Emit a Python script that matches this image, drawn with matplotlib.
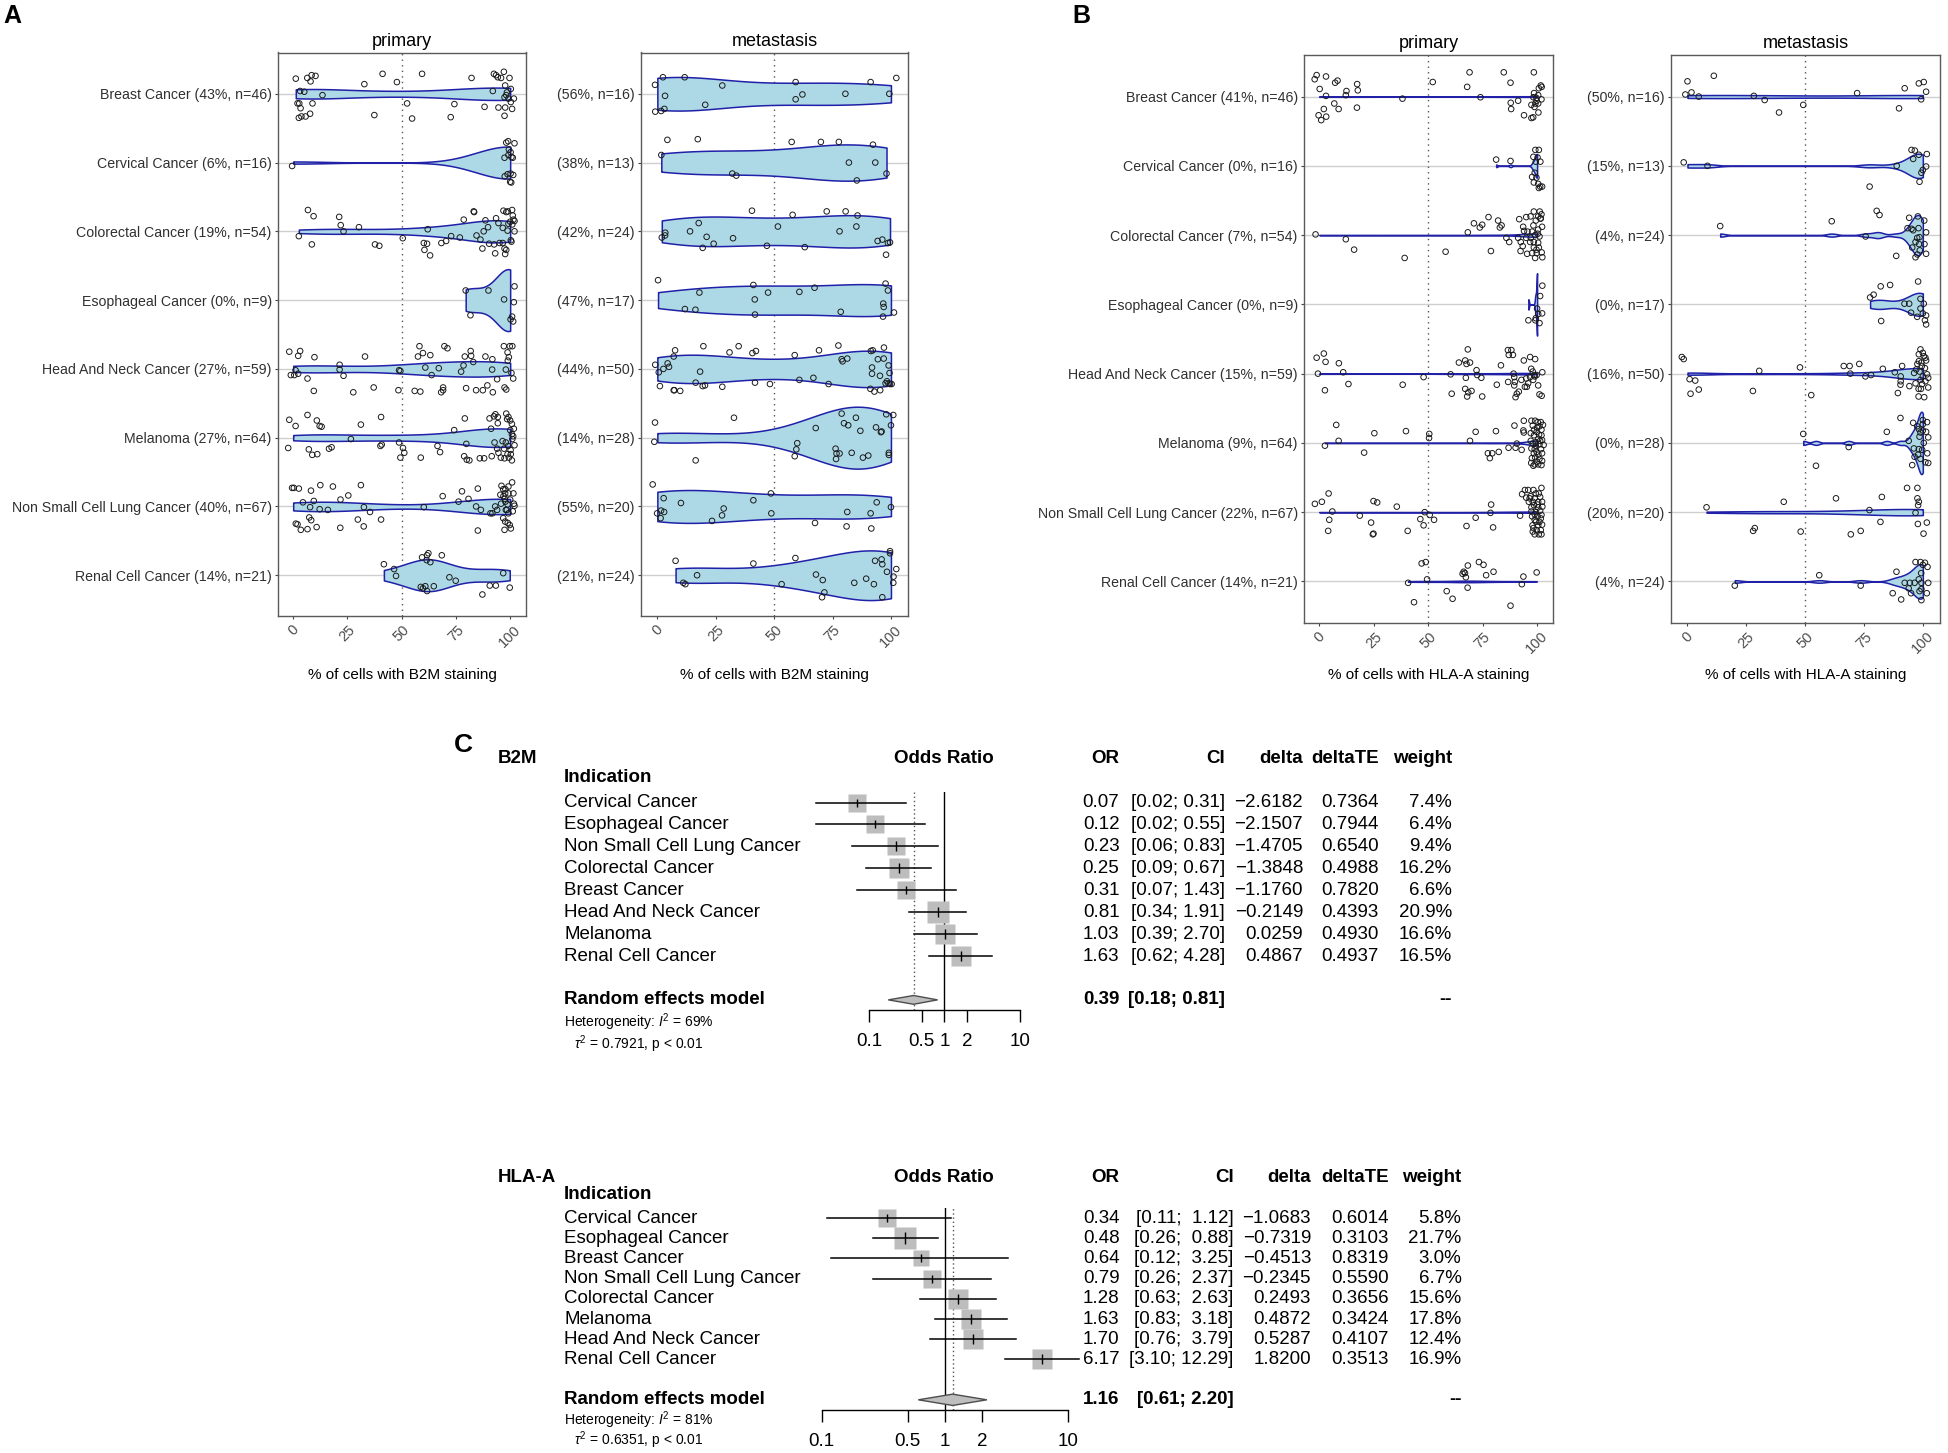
import numpy as np
import matplotlib
matplotlib.use('Agg')
import matplotlib.pyplot as plt
from matplotlib import font_manager as fm
from matplotlib.ticker import NullLocator
from matplotlib.transforms import blended_transform_factory

plt.rcParams['font.family'] = ['Liberation Sans', 'DejaVu Sans']
plt.rcParams['mathtext.fontset'] = 'custom'
plt.rcParams['mathtext.rm'] = 'Liberation Sans'
plt.rcParams['mathtext.it'] = 'Liberation Sans:italic'
plt.rcParams['mathtext.bf'] = 'Liberation Sans:bold'

# condensed font for the ggplot panels if we have it
try:
    fm.findfont('Liberation Sans Narrow', fallback_to_default=False)
    nfam, k = 'Liberation Sans Narrow', 1.0
except ValueError:
    nfam, k = 'Liberation Sans', 0.82

# ---------------- staining data (A, B) ----------------
cancers = ['Breast Cancer', 'Cervical Cancer', 'Colorectal Cancer', 'Esophageal Cancer',
           'Head And Neck Cancer', 'Melanoma', 'Non Small Cell Lung Cancer', 'Renal Cell Cancer']

b2m_prim_pct = [43, 6, 19, 0, 27, 27, 40, 14]
b2m_prim_n = [46, 16, 54, 9, 59, 64, 67, 21]
b2m_met_pct = [56, 38, 42, 47, 44, 14, 55, 21]
b2m_met_n = [16, 13, 24, 17, 50, 28, 20, 24]
hla_prim_pct = [41, 0, 7, 0, 15, 9, 22, 14]
hla_prim_n = [46, 16, 54, 9, 59, 64, 67, 21]
hla_met_pct = [50, 15, 4, 0, 16, 0, 20, 4]
hla_met_n = [16, 13, 24, 17, 50, 28, 20, 24]

# % of stained cells per sample (as plotted) and vertical jitter, per cancer type
b2m_prim_vals = [
    [1.2, 6.5, 8.5, 10.3, 8.0, 3.2, 5.1, 13.5, 2.0, 2.8, 8.9, 3.4, 2.6, 3.8, 5.7, 7.8, 32.8, 41.2, 47.8, 37.4,
     52.5, 54.8, 59.4, 74.3, 72.6, 82.2, 88.2, 92.0, 92.5, 93.5, 94.3, 97.1, 95.8, 99.7, 97.7, 100.3, 98.5, 97.4,
     101.7, 100.3, 94.6, 97.7, 100.9, 97.4, 98.2, 99.2],
    [-0.5, 98.2, 99.1, 102.0, 99.4, 97.4, 100.2, 100.6, 101.2, 97.5, 101.4, 100.2, 100.0, 100.5, 99.2, 98.8],
    [6.8, 9.4, 2.6, 8.6, 21.2, 21.9, 23.2, 30.3, 37.7, 39.7, 50.5, 62.0, 60.2, 61.7, 60.5, 63.1, 68.3, 70.5, 72.8,
     76.8, 78.6, 83.2, 83.4, 84.5, 87.2, 87.8, 88.6, 86.3, 92.6, 93.1, 93.5, 94.6, 95.1, 96.6, 96.9, 98.2, 98.9,
     100.9, 97.4, 97.7, 98.2, 99.2, 100.0, 101.5, 102.0, 101.0, 102.0, 100.3, 100.6, 96.6, 98.8, 89.8, 90.3, 101.2],
    [79.5, 81.7, 90.0, 97.2, 102.0, 101.7, 100.9, 101.4, 100.2],
    [-1.8, 2.3, 3.2, 9.8, 33.1, -1.1, 0.5, 2.3, 1.1, 6.6, 9.5, 21.4, 21.4, 23.2, 27.7, 37.1, 48.5, 48.8, 49.4, 56.0,
     58.6, 58.2, 57.5, 59.8, 60.9, 63.8, 63.2, 69.7, 71.1, 67.1, 69.1, 69.1, 68.2, 77.4, 78.5, 79.1, 81.8, 82.0,
     83.0, 79.7, 84.3, 87.4, 88.6, 89.5, 91.8, 91.7, 92.0, 94.0, 97.1, 98.0, 98.8, 99.8, 101.0, 99.4, 100.6, 101.4,
     97.4, 98.2, 98.9],
    [-1.8, 1.1, 6.6, 10.9, 12.2, 13.1, 31.2, 40.5, -2.3, 7.2, 8.8, 11.1, 16.5, 17.7, 26.6, 40.2, 40.8, 48.8, 50.6,
     51.2, 49.4, 58.8, 66.5, 67.7, 74.2, 79.1, 79.8, 78.8, 80.0, 81.2, 86.0, 88.0, 90.5, 91.2, 92.5, 93.2, 94.3,
     91.5, 92.8, 94.0, 94.6, 95.7, 98.2, 99.2, 100.0, 100.8, 101.7, 100.8, 101.4, 101.0, 102.0, 96.5, 97.2, 98.8,
     99.4, 100.2, 100.3, 98.0, 99.1, 100.0, 97.4, 94.3, 100.8, 98.6],
    [-0.5, 0.3, 2.6, 8.2, 12.5, 18.3, 25.4, 31.2, 4.5, 9.5, 7.8, 12.2, 16.0, 21.8, 32.6, 35.4, 1.2, 2.0, 3.5, 6.6,
     7.4, 8.3, 10.8, 21.7, 29.8, 32.5, 40.5, 60.2, 68.9, 76.2, 77.8, 80.8, 85.1, 84.3, 86.5, 85.1, 90.9, 91.8, 93.1,
     94.0, 96.0, 96.8, 97.8, 99.2, 100.9, 97.7, 99.2, 101.5, 97.5, 97.8, 98.8, 101.7, 102.0, 101.2, 96.8, 97.7,
     98.9, 99.8, 97.4, 100.3, 99.2, 98.5, 95.8, 95.5, 100.0, 96.9, 98.0],
    [41.8, 46.5, 47.4, 59.4, 61.7, 62.3, 63.2, 68.5, 58.8, 59.8, 60.9, 61.7, 64.8, 72.0, 74.9, 90.6, 93.4, 96.8,
     99.8, 87.2, 61.5],
]
b2m_prim_jit = [
    [-0.22, -0.23, -0.27, -0.26, -0.18, -0.04, -0.03, 0.02, 0.14, 0.14, 0.14, 0.21, 0.35, 0.33, 0.33, 0.29, -0.14,
     -0.29, -0.17, 0.31, 0.14, 0.36, -0.29, 0.15, 0.34, -0.23, 0.19, -0.04, -0.29, -0.27, -0.24, -0.32, -0.23,
     -0.23, -0.12, -0.07, -0.02, 0.05, 0.07, 0.12, 0.20, 0.20, 0.22, 0.32, 0.02, 0.07],
    [0.05, -0.29, -0.31, -0.28, -0.19, -0.07, -0.15, -0.08, -0.07, 0.20, 0.18, 0.16, 0.28, 0.29, -0.11, 0.17],
    [-0.31, -0.22, 0.07, 0.19, -0.21, -0.09, 0.00, -0.06, 0.19, 0.21, 0.10, -0.03, 0.17, 0.18, 0.27, 0.35, 0.17,
     0.14, 0.07, 0.09, -0.17, -0.29, -0.28, 0.06, 0.25, 0.00, -0.16, 0.12, 0.19, 0.32, -0.19, -0.12, 0.17, 0.17,
     -0.30, -0.28, -0.29, -0.31, 0.25, 0.33, 0.27, -0.11, -0.14, -0.17, -0.15, -0.10, 0.00, 0.13, 0.15, -0.05,
     -0.01, -0.06, 0.18, -0.23],
    [-0.14, 0.22, -0.14, -0.01, -0.20, 0.03, 0.24, 0.31, 0.28],
    [-0.25, -0.19, -0.26, -0.17, -0.18, 0.09, 0.09, 0.07, 0.02, 0.14, 0.32, -0.06, 0.01, 0.10, 0.34, 0.27, 0.31,
     0.02, 0.03, 0.32, 0.33, -0.33, -0.18, -0.23, -0.02, 0.09, -0.20, -0.33, -0.30, -0.01, 0.27, 0.31, 0.34, 0.04,
     -0.05, -0.18, -0.26, -0.19, -0.10, 0.28, 0.31, 0.31, -0.18, 0.24, -0.14, 0.01, 0.34, 0.15, -0.33, 0.01,
     -0.24, -0.33, -0.33, -0.17, 0.06, 0.14, 0.27, 0.30, -0.12],
    [-0.26, -0.17, -0.33, -0.25, -0.17, -0.16, -0.19, -0.30, 0.15, 0.17, 0.25, 0.24, 0.16, 0.14, 0.02, 0.12, 0.10,
     0.07, 0.15, 0.22, 0.29, 0.29, 0.12, 0.21, -0.11, -0.28, 0.09, 0.27, 0.32, 0.33, 0.30, 0.30, -0.28, -0.13,
     -0.31, -0.34, -0.30, 0.27, 0.07, 0.16, 0.22, 0.29, -0.35, -0.30, -0.25, -0.20, -0.13, -0.05, -0.02, 0.02,
     0.11, 0.05, 0.16, 0.24, 0.29, 0.18, 0.24, 0.07, 0.12, -0.11, 0.30, -0.21, 0.33, -0.27],
    [-0.27, -0.27, -0.26, -0.23, -0.31, -0.29, -0.16, -0.31, -0.06, -0.08, 0.01, 0.04, 0.05, -0.10, 0.01, 0.08,
     0.25, 0.26, 0.34, 0.33, 0.16, 0.20, 0.30, 0.31, 0.19, 0.29, 0.19, 0.01, -0.15, -0.07, -0.22, -0.11, -0.26,
     0.00, 0.05, 0.35, 0.10, 0.10, 0.00, 0.05, -0.30, -0.25, -0.25, -0.29, -0.35, -0.19, -0.19, -0.19, -0.11,
     -0.07, -0.03, -0.04, -0.01, 0.07, 0.17, 0.22, 0.24, 0.27, 0.34, 0.32, 0.10, 0.05, -0.04, -0.17, -0.10,
     -0.15, 0.05],
    [-0.16, -0.09, 0.01, -0.26, -0.29, -0.32, -0.19, -0.29, 0.17, 0.19, 0.16, 0.23, 0.16, 0.03, 0.08, 0.15, 0.15,
     -0.03, 0.18, 0.28, -0.22],
]

b2m_met_vals = [
    [-1.0, 2.4, 11.7, 27.8, 3.3, -0.9, 1.6, 3.0, 20.5, 59.2, 62.1, 59.2, 80.5, 91.3, 99.3, 102.3],
    [4.3, 17.3, 1.7, 32.1, 33.8, 57.5, 70.0, 77.7, 92.3, 82.0, 93.3, 98.1, 85.4],
    [40.5, 57.9, 72.5, 80.6, 85.7, 17.7, 3.4, 1.9, 14.0, 21.1, 19.4, 24.1, 32.4, 46.9, 51.6, 63.1, 78.0, 85.2,
     94.3, 96.3, 98.7, 97.9, 99.6, 3.3],
    [0.3, 18.0, 11.8, 16.3, 41.1, 41.7, 41.8, 47.4, 60.8, 67.3, 78.5, 97.7, 98.7, 96.7, 96.9, 96.6, 101.3],
    [-0.9, 0.6, 2.6, 4.4, 5.0, 7.0, 7.6, 1.1, 7.0, 7.3, 9.8, 18.3, 19.7, 16.4, 19.4, 20.4, 27.8, 30.9, 34.8, 40.7,
     42.2, 41.8, 48.2, 58.8, 60.8, 66.8, 69.2, 73.3, 77.5, 78.9, 79.3, 81.3, 91.4, 92.2, 94.4, 97.0, 96.9, 91.9,
     91.9, 95.3, 99.4, 98.3, 98.9, 99.6, 100.3, 91.2, 92.9, 95.4, 97.7, 99.0],
    [-1.0, -1.3, 16.4, 32.8, 59.9, 59.5, 58.8, 67.8, 78.9, 79.9, 81.7, 85.0, 86.9, 76.3, 76.7, 76.5, 78.0, 83.2,
     88.0, 90.3, 93.6, 96.0, 98.0, 101.0, 100.0, 99.1, 99.1, 95.7],
    [-2.0, 2.7, -0.1, 1.6, 2.9, 1.4, 10.1, 28.4, 27.7, 23.4, 41.1, 48.6, 48.8, 67.5, 81.3, 81.0, 93.9, 91.3, 91.6,
     100.0],
    [7.8, 11.1, 12.0, 17.0, 41.1, 53.2, 59.1, 67.9, 70.8, 71.5, 70.5, 84.3, 89.4, 92.7, 93.2, 96.0, 96.3, 96.3,
     98.3, 99.6, 99.6, 102.3, 101.1, 101.0],
]
b2m_met_jit = [
    [-0.13, -0.24, -0.24, -0.12, 0.03, 0.26, 0.25, 0.22, 0.16, -0.17, 0.01, 0.08, 0.00, -0.17, 0.00, -0.23],
    [-0.33, -0.34, -0.11, 0.16, 0.19, -0.30, -0.30, -0.30, -0.26, 0.00, 0.00, 0.16, 0.26],
    [-0.30, -0.24, -0.29, -0.29, -0.23, -0.12, 0.02, 0.09, 0.00, 0.08, 0.24, 0.18, 0.10, 0.21, -0.07, 0.23, 0.00,
     -0.07, 0.14, 0.12, 0.17, 0.34, 0.16, 0.06],
    [-0.29, -0.11, 0.13, 0.14, -0.22, -0.01, 0.21, -0.11, -0.12, -0.18, 0.17, -0.24, -0.14, 0.05, 0.10, 0.24, 0.18],
    [-0.06, 0.05, 0.00, -0.08, -0.03, -0.18, -0.27, 0.25, 0.31, 0.31, 0.32, 0.04, -0.33, 0.20, 0.25, 0.24, 0.26,
     -0.24, -0.33, -0.23, -0.26, 0.20, 0.22, -0.20, 0.16, 0.13, -0.27, 0.22, -0.34, -0.14, -0.11, -0.15, -0.26,
     -0.27, -0.14, -0.31, -0.15, -0.02, 0.07, 0.10, 0.06, 0.18, 0.21, 0.22, 0.22, 0.29, 0.33, 0.31, 0.21, -0.05],
    [-0.22, 0.06, 0.33, -0.29, 0.08, 0.17, 0.27, -0.14, -0.35, -0.21, -0.18, -0.29, -0.10, 0.16, 0.23, 0.31, 0.23,
     0.22, 0.29, 0.26, -0.15, -0.09, -0.34, -0.33, -0.18, 0.22, 0.25, -0.08],
    [-0.32, -0.12, 0.10, 0.06, 0.08, 0.17, -0.05, 0.03, 0.13, 0.21, -0.09, -0.19, 0.10, 0.24, 0.08, 0.29, -0.06,
     0.10, 0.32, 0.01],
    [-0.21, 0.11, 0.13, 0.00, -0.17, 0.13, -0.25, -0.01, 0.07, 0.25, 0.32, 0.11, 0.05, 0.13, -0.21, -0.23, -0.16,
     0.32, -0.05, -0.35, -0.32, -0.09, 0.02, 0.11],
]

hla_prim_vals = [
    [-1.2, -2.1, 3.1, 7.3, 8.4, 0.2, 3.1, 12.5, 12.2, 17.4, 17.7, 6.9, 8.9, 2.1, -0.3, 0.9, 3.2, 17.3, 38.2, 52.1,
     69.0, 67.9, 74.0, 84.7, 87.8, 87.9, 88.1, 91.3, 94.0, 98.5, 100.8, 102.1, 98.6, 98.3, 97.4, 99.2, 100.5,
     102.0, 100.6, 98.2, 97.4, 99.8, 98.8, 101.7, 99.7, 100.5],
    [81.2, 87.8, 99.2, 100.8, 98.3, 100.2, 101.5, 99.4, 97.7, 99.7, 98.5, 100.5, 101.4, 102.3, 100.8, 98.9],
    [-1.7, 12.2, 16.0, 39.2, 58.0, 68.2, 71.0, 73.7, 74.8, 77.7, 78.8, 82.1, 82.9, 83.7, 85.9, 87.2, 91.8, 95.0,
     97.0, 98.5, 101.2, 102.0, 101.5, 99.4, 98.3, 93.6, 94.0, 95.0, 91.3, 92.5, 93.4, 92.4, 95.4, 97.7, 99.8,
     102.1, 99.1, 102.4, 98.5, 100.8, 98.5, 97.1, 100.3, 102.3, 100.5, 99.1, 101.1, 100.5, 99.7, 96.8, 101.7,
     100.5, 95.6, 97.7],
    [102.4, 101.4, 102.3, 100.5, 99.2, 96.0, 101.1, 99.4, 100.0],
    [-1.2, 2.1, 2.9, 9.0, -0.6, 11.0, 2.6, 13.4, 38.3, 47.9, 60.3, 60.8, 64.1, 67.0, 68.2, 67.6, 69.2, 67.3, 67.0,
     68.4, 67.9, 69.9, 72.2, 72.5, 74.4, 74.8, 81.5, 83.4, 86.6, 88.2, 87.0, 88.9, 89.2, 89.5, 89.8, 86.7, 89.5,
     90.7, 90.1, 91.6, 94.4, 95.3, 95.0, 93.9, 96.8, 99.1, 97.3, 98.0, 98.6, 99.8, 102.4, 98.2, 100.5, 101.1,
     102.1, 98.9, 96.8, 95.9, 92.8],
    [7.8, 8.9, 2.6, 25.3, 20.6, 39.8, 50.5, 50.4, 69.2, 71.8, 81.1, 77.4, 79.4, 78.3, 82.4, 89.6, 93.9, 93.7, 93.9,
     90.7, 86.9, 90.1, 92.9, 97.4, 99.1, 100.3, 101.7, 98.0, 101.1, 102.0, 99.8, 98.6, 102.0, 100.6, 102.3, 97.1,
     99.4, 101.1, 103.0, 97.4, 98.9, 101.8, 99.8, 98.5, 100.6, 102.3, 97.6, 99.1, 101.1, 97.3, 98.9, 100.5, 102.0,
     102.3, 100.0, 98.6, 102.7, 97.1, 99.4, 100.9, 98.0, 101.4, 99.8, 98.3],
    [-2.0, 1.2, 4.3, 6.0, 4.6, 4.1, 18.6, 23.8, 24.9, 24.6, 24.9, 26.6, 35.6, 40.6, 46.4, 47.9, 48.4, 50.7, 52.7,
     67.6, 71.8, 78.6, 78.9, 79.8, 92.2, 94.4, 95.9, 98.3, 102.0, 93.1, 95.0, 97.0, 98.9, 101.4, 96.2, 98.0, 100.5,
     102.3, 98.6, 100.5, 102.4, 97.4, 99.5, 101.4, 97.7, 98.9, 101.7, 97.9, 100.5, 102.3, 98.3, 99.8, 101.7, 98.9,
     100.8, 98.9, 100.2, 96.6, 99.4, 100.8, 97.4, 100.2, 102.0, 98.0, 102.0, 99.5, 101.1],
    [40.8, 43.5, 47.0, 48.9, 49.5, 58.5, 61.2, 65.8, 66.9, 67.3, 68.2, 68.1, 73.3, 75.4, 76.6, 80.0, 87.8, 93.0,
     93.7, 99.8, 66.3],
]
hla_prim_jit = [
    [-0.31, -0.25, -0.29, -0.20, -0.23, -0.11, -0.01, -0.08, -0.02, -0.18, -0.09, 0.10, 0.18, 0.18, 0.27, 0.34,
     0.29, 0.16, 0.03, -0.21, -0.35, -0.14, 0.01, -0.35, -0.20, 0.09, 0.18, 0.06, 0.27, -0.35, -0.12, -0.14,
     -0.05, 0.01, 0.12, 0.10, 0.10, 0.04, 0.23, 0.30, 0.31, 0.06, 0.15, -0.16, 0.02, -0.02],
    [-0.09, -0.07, -0.23, -0.23, -0.13, -0.12, -0.06, -0.06, 0.16, 0.17, 0.24, 0.26, 0.30, 0.30, 0.32, 0.10],
    [-0.01, 0.06, 0.21, 0.33, 0.24, -0.04, -0.17, -0.11, -0.15, -0.26, 0.23, -0.21, -0.11, -0.14, 0.04, 0.10,
     -0.23, -0.26, -0.27, -0.34, -0.34, -0.30, -0.24, -0.21, -0.14, -0.12, -0.06, 0.04, 0.04, 0.10, 0.16, 0.23,
     0.27, 0.26, 0.26, 0.25, 0.33, 0.32, 0.18, 0.18, 0.10, 0.04, -0.02, -0.12, -0.08, 0.00, 0.02, 0.11, 0.21,
     0.10, -0.24, -0.27, -0.05, -0.05],
    [-0.27, -0.12, 0.13, 0.14, 0.23, 0.23, 0.27, 0.20, 0.06],
    [-0.23, -0.29, -0.17, -0.15, 0.00, -0.02, 0.24, 0.15, 0.16, 0.05, 0.01, 0.29, -0.16, -0.19, -0.35, -0.14,
     -0.16, 0.06, 0.22, 0.27, 0.33, 0.25, -0.05, 0.02, 0.06, 0.33, 0.16, -0.12, -0.34, -0.34, -0.27, -0.27, 0.00,
     0.05, 0.12, 0.12, 0.17, 0.29, 0.34, 0.26, 0.19, 0.19, 0.07, -0.19, -0.24, -0.21, -0.07, -0.03, 0.02, 0.02,
     -0.02, 0.09, 0.17, 0.30, 0.32, 0.04, 0.05, 0.14, 0.09],
    [-0.26, -0.03, 0.04, -0.14, 0.14, -0.17, -0.13, -0.07, -0.03, -0.16, -0.17, 0.15, 0.15, 0.22, 0.13, -0.25,
     -0.32, -0.18, -0.15, 0.01, 0.07, 0.07, 0.10, -0.32, -0.32, -0.30, -0.30, -0.25, -0.24, -0.19, -0.16, -0.11,
     -0.11, -0.06, -0.04, -0.03, -0.01, 0.02, 0.03, 0.08, 0.09, 0.09, 0.13, 0.15, 0.17, 0.15, 0.22, 0.21, 0.23,
     0.29, 0.31, 0.31, 0.32, 0.26, -0.22, -0.19, -0.26, -0.14, 0.04, -0.12, 0.01, -0.03, 0.27, 0.33],
    [-0.12, -0.15, -0.27, -0.01, 0.11, 0.27, 0.05, 0.15, 0.31, 0.32, -0.16, -0.14, -0.08, 0.27, 0.10, 0.19, 0.00,
     0.04, 0.11, 0.20, 0.08, 0.01, -0.11, 0.22, 0.05, -0.32, -0.32, -0.32, -0.35, -0.26, -0.21, -0.23, -0.20,
     -0.22, -0.15, -0.15, -0.15, -0.15, -0.10, -0.07, -0.08, -0.01, 0.00, -0.02, 0.06, 0.11, 0.09, 0.19, 0.19,
     0.18, 0.23, 0.26, 0.26, 0.32, 0.32, 0.03, 0.06, -0.20, -0.27, -0.27, -0.07, -0.11, 0.04, 0.28, 0.32, 0.14,
     0.14],
    [0.02, 0.30, -0.26, -0.28, -0.03, 0.14, 0.25, -0.11, -0.12, -0.06, -0.23, 0.09, -0.28, -0.24, -0.09, -0.14,
     0.35, 0.04, -0.07, -0.13, -0.14],
]

hla_met_vals = [
    [0.0, 11.2, -0.9, 1.7, 4.8, 28.2, 32.8, 38.9, 49.2, 72.1, 89.9, 92.3, 98.3, 100.4, 101.4, 99.3],
    [-1.6, 8.5, 77.4, 88.9, 95.2, 96.6, 98.3, 101.7, 95.9, 100.0, 101.4, 99.4, 98.6],
    [13.9, 61.3, 80.4, 81.6, 75.7, 88.7, 94.2, 97.9, 100.6, 93.5, 95.2, 95.9, 98.2, 101.4, 97.6, 98.6, 96.9, 98.4,
     100.7, 95.5, 98.7, 96.9, 97.7, 101.4],
    [77.6, 79.1, 82.1, 86.1, 82.3, 98.0, 92.2, 94.2, 99.0, 100.4, 99.0, 95.0, 97.6, 100.0, 101.4, 100.9, 101.4],
    [-2.4, -1.6, 0.9, 3.3, 1.3, 4.8, 30.5, 27.8, 47.8, 52.6, 66.4, 68.9, 73.0, 69.2, 75.6, 78.0, 83.0, 88.1, 91.2,
     90.6, 90.6, 90.5, 94.3, 89.4, 97.7, 97.2, 98.6, 99.6, 100.4, 100.0, 99.0, 101.1, 98.3, 101.8, 102.3, 101.1,
     99.7, 102.3, 98.2, 99.2, 98.2, 100.6, 100.0, 99.4, 100.9, 96.9, 99.0, 101.4, 98.3, 96.3],
    [49.2, 54.6, 68.5, 84.7, 90.5, 94.0, 95.9, 98.3, 100.0, 101.8, 97.6, 100.0, 101.4, 102.3, 98.6, 96.2, 98.3,
     99.7, 101.9, 96.5, 99.0, 101.1, 102.3, 95.5, 100.0, 100.4, 98.0, 99.0],
    [8.1, 40.9, 63.1, 82.6, 77.3, 93.3, 97.7, 97.7, 98.3, 98.0, 96.9, 27.9, 28.6, 48.1, 69.4, 73.6, 82.0, 97.9,
     101.7, 100.3],
    [20.1, 56.0, 73.6, 88.8, 87.2, 90.8, 92.3, 94.0, 94.5, 96.5, 96.9, 99.0, 100.9, 102.0, 100.0, 99.3, 102.3,
     99.4, 99.4, 98.6, 101.7, 99.4, 95.0, 98.3],
]
hla_met_jit = [
    [-0.22, -0.30, -0.03, -0.06, 0.00, -0.01, 0.05, 0.23, 0.12, -0.05, 0.17, -0.12, -0.19, -0.21, -0.07, 0.04],
    [-0.05, 0.00, 0.30, 0.00, -0.23, -0.22, -0.16, -0.17, -0.10, 0.06, 0.01, 0.10, 0.23],
    [-0.13, -0.20, -0.35, -0.29, 0.02, 0.30, -0.25, -0.27, -0.21, -0.10, -0.09, -0.07, -0.10, -0.04, 0.04, 0.03,
     0.10, 0.13, 0.13, 0.18, 0.22, 0.32, 0.28, 0.27],
    [-0.10, -0.14, -0.26, -0.28, 0.24, -0.33, -0.01, -0.01, -0.08, -0.01, 0.06, 0.12, 0.18, 0.13, 0.16, 0.23, 0.29],
    [-0.24, -0.21, 0.08, 0.10, 0.29, 0.23, -0.04, 0.25, -0.09, 0.31, -0.11, -0.11, -0.14, 0.00, 0.04, 0.02, -0.07,
     -0.02, -0.11, 0.04, 0.11, 0.16, 0.18, 0.28, -0.14, -0.06, -0.03, -0.11, -0.25, -0.30, -0.35, -0.23, -0.18,
     0.01, 0.06, 0.11, 0.15, 0.20, 0.22, 0.22, 0.33, 0.34, 0.04, -0.16, -0.08, 0.14, 0.09, -0.19, -0.28, -0.01],
    [-0.13, 0.33, 0.06, -0.16, -0.36, -0.03, -0.29, -0.20, -0.33, -0.30, -0.24, -0.18, -0.16, -0.08, -0.09, 0.08,
     0.09, 0.10, 0.15, 0.20, 0.23, 0.28, 0.29, 0.32, -0.27, 0.00, 0.17, -0.15],
    [-0.07, -0.15, -0.20, -0.22, -0.03, -0.35, -0.35, -0.20, -0.15, -0.10, 0.01, 0.27, 0.23, 0.28, 0.32, 0.27,
     0.14, 0.17, 0.15, 0.31],
    [0.06, -0.09, 0.06, -0.14, 0.17, 0.26, 0.02, 0.10, 0.02, 0.02, -0.28, -0.28, -0.27, -0.21, -0.24, -0.12, 0.02,
     0.02, 0.11, 0.14, 0.17, 0.27, 0.17, -0.03],
]

# ---------------- forest plot data (C) ----------------
b2m_ind = ['Cervical Cancer', 'Esophageal Cancer', 'Non Small Cell Lung Cancer', 'Colorectal Cancer',
           'Breast Cancer', 'Head And Neck Cancer', 'Melanoma', 'Renal Cell Cancer']
b2m_or = [0.07, 0.12, 0.23, 0.25, 0.31, 0.81, 1.03, 1.63]
b2m_lo = [0.02, 0.02, 0.06, 0.09, 0.07, 0.34, 0.39, 0.62]
b2m_hi = [0.31, 0.55, 0.83, 0.67, 1.43, 1.91, 2.70, 4.28]
b2m_delta = [-2.6182, -2.1507, -1.4705, -1.3848, -1.1760, -0.2149, 0.0259, 0.4867]
b2m_dte = [0.7364, 0.7944, 0.6540, 0.4988, 0.7820, 0.4393, 0.4930, 0.4937]
b2m_wt = [7.4, 6.4, 9.4, 16.2, 6.6, 20.9, 16.6, 16.5]
b2m_pooled = [0.39, 0.18, 0.81]
b2m_i2, b2m_tau2 = 69, 0.7921

hla_ind = ['Cervical Cancer', 'Esophageal Cancer', 'Breast Cancer', 'Non Small Cell Lung Cancer',
           'Colorectal Cancer', 'Melanoma', 'Head And Neck Cancer', 'Renal Cell Cancer']
hla_or = [0.34, 0.48, 0.64, 0.79, 1.28, 1.63, 1.70, 6.17]
hla_lo = [0.11, 0.26, 0.12, 0.26, 0.63, 0.83, 0.76, 3.10]
hla_hi = [1.12, 0.88, 3.25, 2.37, 2.63, 3.18, 3.79, 12.29]
hla_delta = [-1.0683, -0.7319, -0.4513, -0.2345, 0.2493, 0.4872, 0.5287, 1.8200]
hla_dte = [0.6014, 0.3103, 0.8319, 0.5590, 0.3656, 0.3424, 0.4107, 0.3513]
hla_wt = [5.8, 21.7, 3.0, 6.7, 15.6, 17.8, 12.4, 16.9]
hla_pooled = [1.16, 0.61, 2.20]
hla_i2, hla_tau2 = 81, 0.6351

W, H = 1949, 1453
fig = plt.figure(figsize=(W / 100, H / 100), dpi=100)


def box(l, t, r, b):
    return [l / W, 1 - b / H, (r - l) / W, (b - t) / H]


def kde(v, method):
    d = np.clip(np.asarray(v, float), 0, 100)
    n = len(d)
    sd = d.std(ddof=1)
    if method == 'scott':
        bw = 1.06 * sd * n ** -0.2
    else:
        iqr = np.subtract(*np.percentile(d, [75, 25]))
        lo = min(sd, iqr / 1.34) if iqr > 0 else sd
        bw = 0.9 * lo * n ** -0.2
    g = np.linspace(d.min(), d.max(), 512)
    dens = np.exp(-0.5 * ((g[:, None] - d[None, :]) / bw) ** 2).sum(1) / (n * bw * np.sqrt(2 * np.pi))
    return g, dens


def stain_panel(ax, vals, jit, method, labels, title, xlabel, xlab_y):
    ax.set_xlim(-7, 107.3)
    ax.set_ylim(7.6, -0.6)
    for i in range(8):
        ax.axhline(i, color='#cfcfcf', lw=1.0, zorder=0)
    ax.axvline(50, color='#555555', lw=1.0, ls=(0, (1, 3)), zorder=1)
    dens = [kde(v, method) for v in vals]
    top = max(d.max() for g, d in dens)
    for i, (g, d) in enumerate(dens):
        half = 0.45 * d / top
        ax.fill_between(g, i - half, i + half, facecolor='#add8e6', edgecolor='#2020a8', lw=1.1, zorder=2)
    for i, (v, j) in enumerate(zip(vals, jit)):
        m = min(len(v), len(j))
        ax.scatter(v[:m], i + np.array(j[:m]), s=16, facecolors='none', edgecolors='#1a1a1a',
                   linewidths=0.7, zorder=3)
    ax.set_yticks(range(8))
    ax.set_yticklabels(labels, family=nfam, fontsize=12.4 * k, color='#303030')
    ax.set_xticks([0, 25, 50, 75, 100])
    ax.set_xticklabels(['0', '25', '50', '75', '100'], rotation=45, ha='center', va='top',
                       family=nfam, fontsize=12.8 * k, color='#4d4d4d')
    ax.xaxis.set_minor_locator(NullLocator())
    ax.tick_params(axis='both', length=2.5, width=0.8, color='#444444', pad=2)
    for s in ax.spines.values():
        s.set_color('#5a5a5a')
        s.set_linewidth(1.0)
    ax.set_title(title, family=nfam, fontsize=15.8 * k, pad=5)
    ax.set_xlabel(xlabel, family=nfam, fontsize=13.4 * k)
    ax.xaxis.label.set_va('center')
    ax.xaxis.set_label_coords(0.5, xlab_y)


lab = lambda names, pct, n: [f'{c} ({p}%, n={m})' for c, p, m in zip(names, pct, n)]
lab_s = lambda pct, n: [f'({p}%, n={m})' for p, m in zip(pct, n)]

axA1 = fig.add_axes(box(278, 52.5, 526, 616.5))
axA2 = fig.add_axes(box(641, 52.5, 908, 616.5))
axB1 = fig.add_axes(box(1304, 55, 1553, 623))
axB2 = fig.add_axes(box(1671, 55, 1940, 623))

stain_panel(axA1, b2m_prim_vals, b2m_prim_jit, 'scott', lab(cancers, b2m_prim_pct, b2m_prim_n),
            'primary', '% of cells with B2M staining', -0.104)
stain_panel(axA2, b2m_met_vals, b2m_met_jit, 'scott', lab_s(b2m_met_pct, b2m_met_n),
            'metastasis', '% of cells with B2M staining', -0.104)
stain_panel(axB1, hla_prim_vals, hla_prim_jit, 'nrd0', lab(cancers, hla_prim_pct, hla_prim_n),
            'primary', '% of cells with HLA-A staining', -0.0915)
stain_panel(axB2, hla_met_vals, hla_met_jit, 'nrd0', lab_s(hla_met_pct, hla_met_n),
            'metastasis', '% of cells with HLA-A staining', -0.0915)

fig.text(3 / W, 1 - 16 / H, 'A', fontsize=18, fontweight='bold', va='center', ha='left')
fig.text(1072 / W, 1 - 16 / H, 'B', fontsize=18, fontweight='bold', va='center', ha='left')
fig.text(454 / W, 1 - 745 / H, 'C', fontsize=19, fontweight='bold', va='center', ha='left')


def fnum(x):
    return f'{x:.4f}'.replace('-', '\u2212')


def forest(ax, marker, names, orv, lo, hi, delta, dte, wt, pooled, i2, tau2, cols, dia_h):
    ax.set_xscale('log')
    ax.set_xlim(0.1, 10)
    ax.set_ylim(9.48, -0.5)
    ax.patch.set_visible(False)
    for s in ['top', 'right', 'left']:
        ax.spines[s].set_visible(False)
    ax.spines['bottom'].set_linewidth(1.0)
    ax.set_yticks([])
    ax.set_xticks([0.1, 0.5, 1, 2, 10])
    ax.set_xticklabels(['0.1', '0.5', '1', '2', '10'])
    ax.xaxis.set_minor_locator(NullLocator())
    ax.tick_params(axis='x', length=8.6, width=1.0, pad=8, labelsize=13.5)
    ax.axvline(1, color='black', lw=1.0, zorder=1)
    ax.axvline(pooled[0], color='#555555', lw=1.0, ls=(0, (1, 2)), zorder=1)
    for i in range(len(names)):
        side = (15.5 + 0.3 * wt[i]) / 1.389
        ax.plot(orv[i], i, marker='s', ms=side, color='#bdbdbd', mec='none', zorder=2, clip_on=False)
        ax.plot([lo[i], hi[i]], [i, i], color='black', lw=1.1, zorder=3, clip_on=False)
        ax.plot(orv[i], i, marker='|', ms=side * 0.5, color='black', mew=1.0, zorder=4, clip_on=False)
    p, plo, phi = pooled
    ax.fill([plo, p, phi, p], [9, 9 - dia_h, 9, 9 + dia_h], facecolor='#bebebe', edgecolor='#4d4d4d',
            lw=1.0, zorder=3, clip_on=False)

    tr = blended_transform_factory(fig.transFigure, ax.transData)
    x_or, x_ci, x_de, x_dte, x_w = [c / W for c in cols]
    hd = dict(transform=tr, fontsize=13.5, fontweight='bold', va='center')
    ax.text(498 / W, -2, marker, ha='left', **hd)
    ax.text(944 / W, -2, 'Odds Ratio', ha='center', **hd)
    for x, t in zip([x_or, x_ci, x_de, x_dte, x_w], ['OR', 'CI', 'delta', 'deltaTE', 'weight']):
        ax.text(x, -2, t, ha='right', **hd)
    ax.text(564 / W, -1.15, 'Indication', ha='left', **hd)
    hw = max(len(f'{h:.2f}') for h in hi)
    rt = dict(transform=tr, fontsize=13.5, va='center')
    for i in range(len(names)):
        ax.text(564 / W, i, names[i], ha='left', **rt)
        ax.text(x_or, i, f'{orv[i]:.2f}', ha='right', **rt)
        ax.text(x_ci, i, f'[{lo[i]:.2f}; {hi[i]:>{hw}.2f}]', ha='right', **rt)
        ax.text(x_de, i, fnum(delta[i]), ha='right', **rt)
        ax.text(x_dte, i, f'{dte[i]:.4f}', ha='right', **rt)
        ax.text(x_w, i, f'{wt[i]:.1f}%', ha='right', **rt)
    ax.text(564 / W, 9, 'Random effects model', ha='left', **hd)
    ax.text(x_or, 9, f'{p:.2f}', ha='right', **hd)
    ax.text(x_ci, 9, f'[{plo:.2f}; {phi:.2f}]', ha='right', **hd)
    ax.text(x_w, 9, '--', ha='right', **hd)
    ax.text(564 / W, 10, f'Heterogeneity: $I^2$ = {i2}%', ha='left', transform=tr, fontsize=10, va='center')
    ax.text(574 / W, 11, rf'$\tau^2$ = {tau2:.4f}, p < 0.01', ha='left', transform=tr, fontsize=10,
            va='center')


fB = fig.add_axes(box(869, 791.6, 1020, 1010.4))
forest(fB, 'B2M', b2m_ind, b2m_or, b2m_lo, b2m_hi, b2m_delta, b2m_dte, b2m_wt, b2m_pooled,
       b2m_i2, b2m_tau2, [1119.5, 1225, 1303, 1379, 1452], 0.2)
fH = fig.add_axes(box(821.6, 1208, 1067.8, 1409.5))
forest(fH, 'HLA-A', hla_ind, hla_or, hla_lo, hla_hi, hla_delta, hla_dte, hla_wt, hla_pooled,
       hla_i2, hla_tau2, [1119.5, 1233.7, 1311, 1389, 1461.5], 0.28)

fig.savefig('out.png', dpi=100)
